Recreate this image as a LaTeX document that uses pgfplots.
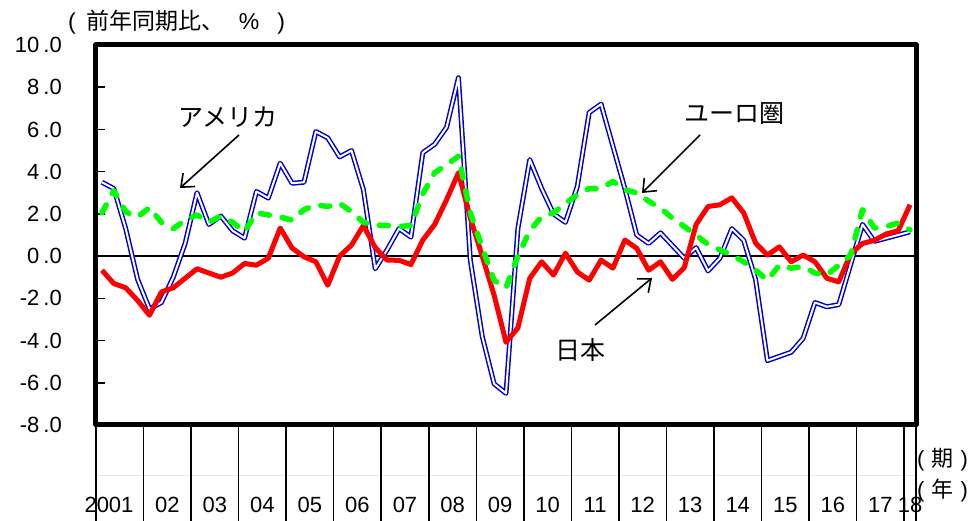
\documentclass[border=0pt]{standalone}
\usepackage{fontspec}
\setmainfont{Liberation Sans}
\newfontfamily\jp{Noto Sans CJK JP}
\usepackage{pgfplots}
\usepackage{pgfplotstable}
\pgfplotsset{compat=1.18}
\usetikzlibrary{arrows.meta}
\definecolor{usblue}{RGB}{0,0,204}
\definecolor{jpred}{RGB}{255,0,0}
\definecolor{eugreen}{RGB}{0,255,0}

\pgfplotstableread{
i us jp eu
0 3.5 -0.67 2.05
1 3.2 -1.3 3.1
2 1.3 -1.5 2.1
3 -1.1 -2.1 1.85
4 -2.5 -2.8 2.3
5 -2.2 -1.7 1.6
6 -1.0 -1.5 1.3
7 0.6 -1.05 1.7
8 3.0 -0.6 1.95
9 1.5 -0.8 1.6
10 1.9 -1.0 1.9
11 1.2 -0.8 1.6
12 0.85 -0.35 1.16
13 3.06 -0.43 2.05
14 2.75 -0.1 1.95
15 4.4 1.33 1.85
16 3.45 0.38 1.7
17 3.5 -0.03 2.2
18 5.9 -0.27 2.43
19 5.6 -1.38 2.35
20 4.7 0.0 2.5
21 5.0 0.52 2.1
22 3.15 1.45 1.6
23 -0.6 0.4 1.47
24 0.3 -0.19 1.45
25 1.3 -0.2 1.4
26 0.9 -0.4 1.45
27 4.9 0.76 2.95
28 5.3 1.5 3.95
29 6.1 2.67 4.33
30 8.45 3.95 4.73
31 -0.2 1.8 2.05
32 -3.8 0.0 0.4
33 -6.05 -1.85 -1.15
34 -6.5 -4.08 -1.5
35 1.3 -3.4 0.0
36 4.57 -1.05 1.2
37 3.2 -0.27 1.87
38 2.0 -0.9 2.05
39 1.6 0.14 2.5
40 3.3 -0.75 2.9
41 6.8 -1.14 3.2
42 7.2 -0.19 3.2
43 5.2 -0.57 3.54
44 3.2 0.76 3.14
45 1.0 0.37 3.0
46 0.6 -0.67 2.6
47 1.1 -0.27 2.27
48 0.5 -1.1 1.8
49 -0.1 -0.55 1.4
50 0.4 1.5 1.0
51 -0.7 2.35 0.55
52 -0.1 2.43 0.29
53 1.3 2.76 0.05
54 0.75 2.05 -0.27
55 -1.1 0.62 -0.67
56 -4.95 0.05 -1.14
57 -4.75 0.44 -0.43
58 -4.55 -0.27 -0.57
59 -3.9 0.05 -0.5
60 -2.2 -0.27 -0.8
61 -2.4 -1.05 -0.9
62 -2.3 -1.22 -0.43
63 -0.4 0.1 0.05
64 1.5 0.6 2.2
65 0.7 0.75 1.33
66 0.85 1.05 1.4
67 1.0 1.2 1.57
68 1.15 2.43 1.24
}\data

\begin{document}
\begin{tikzpicture}[x=1pt,y=1pt]
\useasboundingbox (-96,-96) rectangle (879,425);
\begin{axis}[
  at={(0,0)}, anchor=south west,
  scale only axis, width=820pt, height=380pt,
  xmin=-0.5, xmax=68.5, ymin=-8, ymax=10,
  xtick=\empty,
  ytick={-8,-6,-4,-2,0,2,4,6,8,10},
  yticklabels={-8\hspace{4pt}.0,-6\hspace{4pt}.0,-4\hspace{4pt}.0,-2\hspace{4pt}.0,0\hspace{4pt}.0,2\hspace{4pt}.0,4\hspace{4pt}.0,6\hspace{4pt}.0,8\hspace{4pt}.0,10\hspace{4pt}.0},
  yticklabel style={anchor=east, inner sep=0pt, xshift=-34pt, font=\fontsize{22}{22}\selectfont},
  ytick pos=left, tick align=inside,
  major tick length=9pt,
  every tick/.style={black, line width=1.5pt},
  axis line style={line width=5pt, line join=round},
]
\draw[black, line width=1.6pt] (axis cs:-0.5,0) -- (axis cs:68.5,0);
\addplot[draw=usblue, line width=1.5pt, double=white, double distance=2pt, line join=round] table[x=i,y=us] {\data};
\addplot[draw=jpred, line width=5pt, line join=round] table[x=i,y=jp] {\data};
\addplot[draw=eugreen, line width=5.5pt, line cap=round, line join=round, dash pattern=on 9pt off 13pt] table[x=i,y=eu] {\data};
\end{axis}
% faint row divider
\draw[gray!18, line width=0.8pt] (0,-50) -- (820,-50);
% category separators
\foreach \k in {0,...,17} \draw[black, line width=1.5pt] ({\k*47.536},-2) -- ({\k*47.536},-96);
\draw[black, line width=1.5pt] (820,-2) -- (820,-96);
% year labels
\begin{scope}[font=\fontsize{22}{22}\selectfont]
\node at (13,-80) {2001};
\foreach \k/\lab in {1/02,2/03,3/04,4/05,5/06,6/07,7/08,8/09,9/10,10/11,11/12,12/13,13/14,14/15,15/16,16/17}
  \node at ({(\k+0.5)*47.536},-80) {\lab};
\node at (814,-80) {18};
\node[anchor=west, inner sep=0pt] at (821,-35) {(\hspace{7pt}{\jp 期}\hspace{7pt})};
\node[anchor=west, inner sep=0pt] at (821,-65) {(\hspace{7pt}{\jp 年}\hspace{7pt})};
\end{scope}
% unit label
\node[font=\fontsize{23}{23}\selectfont, anchor=west, inner sep=0pt] at (-28,403) {(\hspace{11pt}{\jp 前年同期比、}\hspace{14pt}\%\hspace{18pt})};
% annotations
\begin{scope}[font=\jp\fontsize{25}{25}\selectfont]
\node at (132,308) {アメリカ};
\node at (638,311) {ユーロ圏};
\node at (484,75) {日本};
\end{scope}
\begin{scope}[line width=1.6pt, -{Straight Barb[length=11pt,width=18pt,line width=1.6pt]}]
\draw (143,290) -- (84,237);
\draw (604,290) -- (546,232);
\draw (499,100) -- (556,147);
\end{scope}
\end{tikzpicture}
\end{document}
